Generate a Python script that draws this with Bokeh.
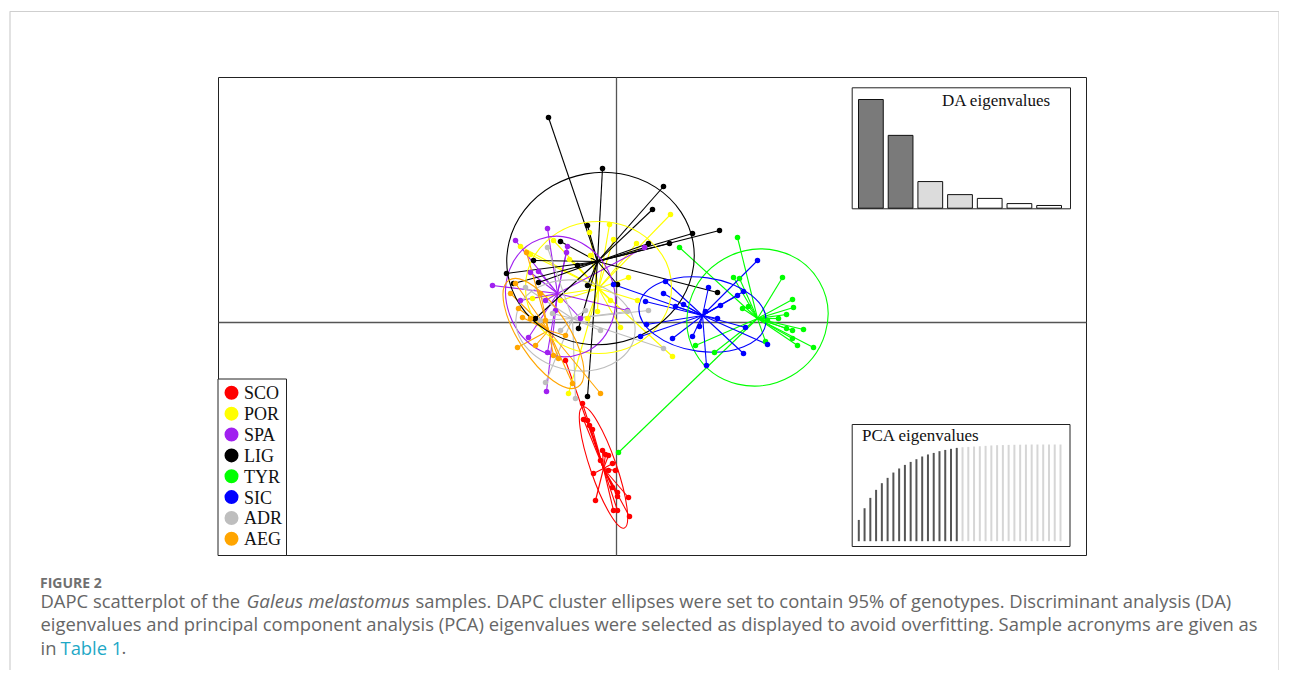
import numpy as np
from bokeh.plotting import figure
from bokeh.models import Range1d
from bokeh.core.properties import value
from bokeh.embed import file_html
from bokeh.resources import INLINE

# ---------------- data ----------------
GROUPS = ["SCO", "POR", "SPA", "LIG", "TYR", "SIC", "ADR", "AEG"]

SCO_X = [-5.1, -3.4, -3.3, -2.9, -2.7, -2.4, -1.4, -1.1, -0.8, -1.6, -0.4, -0.8, -0.1, -2.3, -0.4, 0.1, -2.1, 1.2, 0.1, -0.3, 0.1, 1.3]
SCO_Y = [-3.8, -8.1, -9.7, -9.8, -10.3, -10.7, -12.8, -13.2, -13.3, -13.8, -14.1, -14.8, -14.8, -15.1, -16.5, -17.0, -17.8, -17.5, -17.4, -18.8, -18.8, -19.4]

POR_X = [5.4, -0.7, -0.3, 2.0, -8.6, -9.6, -4.7, 1.2, -1.9, 2.1, 0.4, 5.6, -4.8, -8.4, -2.9, -5.6, -0.6, -2.6, -6.3, -2.7]
POR_Y = [10.8, 9.8, 8.3, 7.9, 6.8, 7.6, 6.3, 4.5, 1.1, 2.2, -0.5, -3.4, -7.1, 2.4, 0.4, 2.2, 2.2, 6.7, 8.2, 9.0]

SPA_X = [-6.9, -10.1, -4.9, -5.0, -12.4, -7.8, -8.6, 1.1, -3.6, -8.8, -6.9, -7.0, 2.8, -6.1, -7.1, -9.6]
SPA_Y = [9.4, 8.2, 7.6, 7.0, 3.7, 5.1, 5.0, 1.2, 0.4, -1.5, -3.0, -6.9, 7.5, 1.2, 2.2, 2.2]

LIG_X = [-6.8, -1.4, 4.7, 3.6, 10.3, 7.6, 5.3, 3.2, -2.9, -5.6, -8.3, -11.0, -10.3, -7.8, -3.9, 10.1, 0.1, -8.1, -3.8, -2.9, -2.9]
LIG_Y = [20.5, 15.4, 13.6, 11.3, 9.2, 8.9, 7.9, 7.9, 9.7, 8.1, 6.2, 4.9, 3.9, 4.0, 5.7, 3.0, 3.8, 0.4, -0.6, -7.4, 3.7]

TYR_X = [12.1, 6.3, 16.6, 11.7, 12.3, 13.2, 12.6, 17.6, 17.7, 17.0, 16.2, 17.0, 17.6, 18.7, 17.6, 18.1, 19.7, 14.9, 7.9, 9.8, 15.1, 0.2]
TYR_Y = [8.5, 7.5, 4.5, 4.5, 4.4, 1.6, 1.4, 2.3, 1.5, 0.8, 0.4, -0.6, -0.8, -0.7, -1.6, -2.3, -2.5, -1.9, -2.3, -3.0, 0.2, -13.0]

SIC_X = [14.1, 12.7, 12.1, 9.2, 10.4, 10.1, 8.9, 4.7, 2.9, 6.7, 5.9, 3.0, 2.4, 5.6, 7.6, 8.3, 9.0, 12.7, 15.1, 12.9, 4.9, -0.3]
SIC_Y = [6.2, 3.1, 2.7, 3.5, 1.7, 0.4, 1.1, 2.9, 2.1, 1.8, 1.6, -0.2, -1.4, -1.6, -1.4, -0.4, -4.3, -3.1, -2.2, -0.5, 4.1, 3.8]

ADR_X = [-9.1, -6.9, -6.4, 3.2, 1.1, 4.7, -7.1, -4.1, -5.6, -7.6, -1.6, -3.1]
ADR_Y = [3.5, 7.5, 0.9, 1.2, 1.1, -2.6, -6.0, -7.6, -0.8, 0.2, -0.8, 1.2]

AEG_X = [-9.0, -10.1, -9.8, -9.4, -8.6, -7.6, -9.9, -8.1, -6.3, -5.8, -1.6, -4.4, -10.6, -7.1, -5.1]
AEG_Y = [7.0, 3.9, 1.4, 0.5, 0.4, 2.9, -2.5, -2.3, -3.3, -3.6, -7.1, -6.1, 2.9, 0.2, -1.3]

# group centroids (star centres)
CEN_X = [-1.3, -1.8, -5.9, -1.9, 14.1, 8.6, -4.4, -6.8]
CEN_Y = [-14.6, 3.4, 2.9, 6.1, 0.4, 0.7, 0.4, -0.8]

# 95% ellipses: centre, full axes lengths, rotation (deg)
ELL_X = [-1.3, -1.8, -5.6, -1.6, 14.1, 8.6, -4.1, -7.3]
ELL_Y = [-14.5, 3.5, 2.6, 6.4, 0.5, 0.8, -0.3, -1.1]
ELL_W = [12.8, 14.6, 10.8, 18.8, 14.3, 12.8, 12.0, 12.7]
ELL_H = [2.6, 13.2, 12.2, 17.2, 13.5, 7.4, 9.0, 5.0]
ELL_ANGLE = [-71, 0, 20, 10, 30, -8, -10, -57]

# DA eigenvalues and PCA cumulative variance (%)
DA_EIG = [40.0, 26.8, 9.8, 5.0, 3.6, 1.7, 1.0]
PCA_CUMVAR = [22.0, 34.1, 44.8, 53.1, 60.0, 65.5, 71.0, 75.2, 78.9, 82.0, 84.8, 87.6,
              89.7, 91.3, 93.1, 94.4, 95.5, 96.5, 97.2, 97.5, 97.9, 98.2, 98.6, 99.0,
              99.3, 99.4, 99.6, 99.7, 99.8, 99.9, 100.0, 100.0, 100.0, 100.0, 100.0, 100.0]
N_PCA_RETAINED = 18

GX = [SCO_X, POR_X, SPA_X, LIG_X, TYR_X, SIC_X, ADR_X, AEG_X]
GY = [SCO_Y, POR_Y, SPA_Y, LIG_Y, TYR_Y, SIC_Y, ADR_Y, AEG_Y]

# ---------------- styles / layout ----------------
COLORS = ["#ff0000", "#ffff00", "#a020f0", "#000000", "#00ff00", "#0000ff", "#bebebe", "#ffa500"]
DA_FILL = ["#7a7a7a", "#7a7a7a", "#dcdcdc", "#dcdcdc", "#ffffff", "#ffffff", "#ffffff"]
SERIF = value("Liberation Serif")
SANS = value("Open Sans")

W, H = 1279, 670
PX0, PX1, PY0, PY1 = 0, W, 0, H   # picture coords of the frame

def lin_range(p0, p1, v0, v1, lo, hi):
    k = (v1 - v0) / (p1 - p0)
    return Range1d(start=v0 + (lo - p0) * k, end=v0 + (hi - p0) * k)

# main scatter panel box (px) and its data limits
BOX = (218, 77, 1086, 555)
XLIM = (-39.8, 47.0)
YLIM = (-23.3, 24.5)
DA_BOX = (851.7, 87.3, 1070, 208.3)
PCA_BOX = (851.7, 424, 1069.5, 546)
LEG = (217.5, 378.5, 286, 555)

p = figure(width=W, height=H, x_range=Range1d(PX0, PX1), y_range=Range1d(PY1, PY0),
           output_backend="svg", toolbar_location=None, min_border=0,
           x_axis_type=None, y_axis_type=None, outline_line_color=None)
p.grid.visible = False

p.extra_x_ranges = {
    "ld1": lin_range(BOX[0], BOX[2], XLIM[0], XLIM[1], PX0, PX1),
    "da": lin_range(858, 1061, 0.2, 8.4, PX0, PX1),
    "pca": lin_range(858.3, 1060, 1, 36, PX0, PX1),
}
p.extra_y_ranges = {
    "ld2": lin_range(BOX[3], BOX[1], YLIM[0], YLIM[1], PY1, PY0),
    "da": lin_range(207.7, 99, 0, DA_EIG[0], PY1, PY0),
    "pca": lin_range(540.7, 444, 0, 100, PY1, PY0),
}

# card border
p.quad(left=[9.5], right=[W - 0.5], top=[11], bottom=[H + 20], fill_color=None,
       line_color="#cfcfcf", line_width=1.2)

# scatter frame + axes through origin
p.quad(left=[BOX[0]], right=[BOX[2]], top=[BOX[1]], bottom=[BOX[3]], fill_color="white",
       line_color="#222222", line_width=1)
p.segment(x0=[XLIM[0], 0], y0=[0, YLIM[0]], x1=[XLIM[1], 0], y1=[0, YLIM[1]],
          line_color="#555555", line_width=1.3, x_range_name="ld1", y_range_name="ld2")

# stars
for gi in range(len(GROUPS)):
    n = len(GX[gi])
    p.segment(x0=[CEN_X[gi]] * n, y0=[CEN_Y[gi]] * n, x1=GX[gi], y1=GY[gi],
              line_color=COLORS[gi], line_width=1.1, x_range_name="ld1", y_range_name="ld2")
# ellipses
for gi in range(len(GROUPS)):
    p.ellipse(x=[ELL_X[gi]], y=[ELL_Y[gi]], width=[ELL_W[gi]], height=[ELL_H[gi]],
              angle=[ELL_ANGLE[gi]], angle_units="deg", fill_color=None,
              line_color=COLORS[gi], line_width=1.1, x_range_name="ld1", y_range_name="ld2")
# points
for gi in range(len(GROUPS)):
    p.scatter(x=GX[gi], y=GY[gi], size=5.5, fill_color=COLORS[gi], line_color=None,
              x_range_name="ld1", y_range_name="ld2")

# DA eigenvalues inset
p.quad(left=[DA_BOX[0]], right=[DA_BOX[2]], top=[DA_BOX[1]], bottom=[DA_BOX[3]],
       fill_color="white", line_color="#222222", line_width=1)
p.vbar(x=[0.7 + 1.2 * i for i in range(len(DA_EIG))], width=1.0, top=DA_EIG, bottom=0,
       fill_color=DA_FILL, line_color="#111111", line_width=1,
       x_range_name="da", y_range_name="da")
p.text(x=[941.5], y=[100], text=["DA eigenvalues"], text_font=SERIF, text_font_size="17px",
       text_baseline="alphabetic", text_color="#111111")

# PCA eigenvalues inset
p.quad(left=[PCA_BOX[0]], right=[PCA_BOX[2]], top=[PCA_BOX[1]], bottom=[PCA_BOX[3]],
       fill_color="white", line_color="#222222", line_width=1)
pc_idx = list(range(1, len(PCA_CUMVAR) + 1))
pc_col = ["#555555" if i <= N_PCA_RETAINED else "#d6d6d6" for i in pc_idx]
p.segment(x0=pc_idx, y0=[0] * len(pc_idx), x1=pc_idx, y1=PCA_CUMVAR, line_color=pc_col,
          line_width=2, x_range_name="pca", y_range_name="pca")
p.text(x=[861.5], y=[434.7], text=["PCA eigenvalues"], text_font=SERIF, text_font_size="17px",
       text_baseline="alphabetic", text_color="#111111")

# legend
p.quad(left=[LEG[0]], right=[LEG[2]], top=[LEG[1]], bottom=[LEG[3]], fill_color="white",
       line_color="#222222", line_width=1)
leg_y = [392.3 + 20.86 * i for i in range(len(GROUPS))]
p.scatter(x=[231] * len(GROUPS), y=leg_y, size=14, fill_color=COLORS, line_color=None)
p.text(x=[243.5] * len(GROUPS), y=[v + 0.5 for v in leg_y], text=GROUPS, text_font=SERIF,
       text_font_size="18px", text_baseline="alphabetic", text_color="#111111")

# caption
CAP_GRAY = "#666666"
p.text(x=[39.5], y=[581.5], text=["FIGURE 2"], text_font=SANS, text_font_size="14px",
       text_font_style="bold", text_baseline="alphabetic", text_color="#707070")
cap_kw = dict(text_font=SANS, text_baseline="alphabetic")
p.text(x=[40], y=[600], text=["DAPC scatterplot of the"], text_color=CAP_GRAY,
       text_font_size="18.4px", **cap_kw)
p.text(x=[246], y=[600], text=["Galeus melastomus"], text_color=CAP_GRAY,
       text_font_style="italic", text_font_size="18.9px", **cap_kw)
p.text(x=[415], y=[600], text=["samples. DAPC cluster ellipses were set to contain 95% of genotypes. Discriminant analysis (DA)"],
       text_color=CAP_GRAY, text_font_size="18.4px", **cap_kw)
p.text(x=[40], y=[623], text=["eigenvalues and principal component analysis (PCA) eigenvalues were selected as displayed to avoid overfitting. Sample acronyms are given as"],
       text_color=CAP_GRAY, text_font_size="18.4px", **cap_kw)
p.text(x=[40], y=[646.5], text=["in"], text_color=CAP_GRAY, text_font_size="18.4px", **cap_kw)
p.text(x=[60], y=[646.5], text=["Table 1"], text_color="#1ea8c6", text_font_size="18.4px", **cap_kw)
p.text(x=[121], y=[646.5], text=["."], text_color=CAP_GRAY, text_font_size="18.4px", **cap_kw)

open("out.html", "w").write(file_html(p, INLINE))
